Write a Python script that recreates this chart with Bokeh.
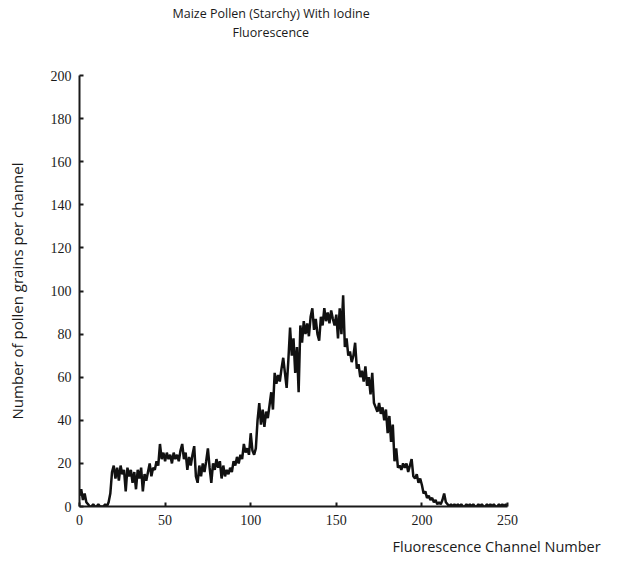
from bokeh.plotting import figure
from bokeh.models import Range1d, Title, FixedTicker
from bokeh.embed import file_html
from bokeh.resources import INLINE

# Channel numbers and counts
channels = list(range(0, 251))
counts = [
    5, 8, 3, 6, 2, 1, 0, 0, 1, 0,
    0, 1, 0, 0, 0, 1, 0, 2, 6, 16,
    19, 13, 18, 12, 19, 15, 17, 7, 18, 14,
    17, 11, 16, 8, 17, 13, 18, 7, 15, 12,
    16, 20, 14, 18, 17, 21, 19, 29, 22, 25,
    21, 25, 22, 24, 20, 25, 22, 24, 21, 26,
    29, 22, 25, 17, 23, 19, 24, 28, 14, 11,
    19, 14, 20, 16, 21, 27, 18, 11, 20, 17,
    22, 18, 21, 13, 19, 14, 17, 15, 18, 16,
    21, 19, 23, 20, 24, 22, 29, 25, 27, 24,
    34, 26, 24, 27, 40, 48, 38, 45, 37, 44,
    41, 47, 53, 45, 62, 57, 61, 58, 64, 69,
    62, 55, 68, 83, 70, 78, 62, 74, 53, 84,
    76, 86, 80, 85, 79, 88, 92, 82, 87, 80,
    77, 88, 84, 92, 86, 90, 85, 91, 87, 84,
    89, 78, 92, 80, 98, 74, 78, 70, 72, 67,
    70, 76, 64, 66, 60, 63, 58, 65, 56, 60,
    52, 62, 48, 46, 44, 48, 43, 46, 40, 45,
    34, 42, 30, 38, 21, 27, 18, 19, 17, 20,
    18, 20, 16, 19, 22, 14, 13, 15, 11, 13,
    10, 6, 7, 4, 5, 3, 4, 2, 3, 1,
    2, 1, 3, 6, 2, 1, 0, 1, 0, 1,
    0, 1, 0, 1, 0, 0, 1, 0, 1, 0,
    1, 0, 0, 1, 0, 1, 0, 0, 1, 0,
    1, 0, 1, 0, 0, 1, 0, 1, 0, 1,
    0,
]
x_ticks = [0, 50, 100, 150, 200, 250]
y_ticks = [0, 20, 40, 60, 80, 100, 120, 140, 160, 180, 200]

title_line1 = "Maize Pollen (Starchy) With Iodine"
title_line2 = "Fluorescence"
x_label = "Fluorescence Channel Number"
y_label = "Number of pollen grains per channel"

p = figure(width=620, height=562, output_backend="svg", toolbar_location=None,
           x_range=Range1d(0, 250), y_range=Range1d(0, 200),
           min_border_left=79, min_border_right=113,
           min_border_top=75, min_border_bottom=56)
p.outline_line_color = None
p.xgrid.visible = False
p.ygrid.visible = False
p.background_fill_color = "white"
p.border_fill_color = "white"

p.line(channels, counts, line_color="#111111", line_width=2.5)

tick_font = "Liberation Serif"
for ax in (p.xaxis, p.yaxis):
    ax.axis_line_width = 2
    ax.axis_line_color = "#1a1a1a"
    ax.major_tick_in = 4
    ax.major_tick_out = 0
    ax.major_tick_line_width = 2
    ax.major_tick_line_color = "#1a1a1a"
    ax.minor_tick_line_color = None
    ax.major_label_text_font = tick_font
    ax.major_label_text_font_size = "14px"
    ax.major_label_text_color = "#1a1a1a"
    ax.major_label_standoff = 8

p.xaxis.ticker = FixedTicker(ticks=x_ticks)
p.yaxis.ticker = FixedTicker(ticks=y_ticks)

p.yaxis.axis_label = y_label
p.yaxis.axis_label_text_font = "Open Sans"
p.yaxis.axis_label_text_font_style = "normal"
p.yaxis.axis_label_text_font_size = "15px"
p.yaxis.axis_label_text_color = "#1a1a1a"
p.yaxis.axis_label_standoff = 21

common = dict(text_font="Open Sans", text_font_style="normal", text_color="#1a1a1a")
# empty spacer title between the frame and the two title lines
p.add_layout(Title(text=" ", align="left", standoff=0,
                   text_font_size="24px", **common), "above")
p.add_layout(Title(text=title_line2, align="left", offset=153, standoff=0,
                   text_font_size="12.5px", **common), "above")
p.add_layout(Title(text=title_line1, align="left", offset=93, standoff=0,
                   text_font_size="12.5px", **common), "above")
p.add_layout(Title(text=x_label, align="left", offset=313, standoff=14,
                   text_font_size="14.5px", **common), "below")

open("out.html", "w").write(file_html(p, INLINE))
